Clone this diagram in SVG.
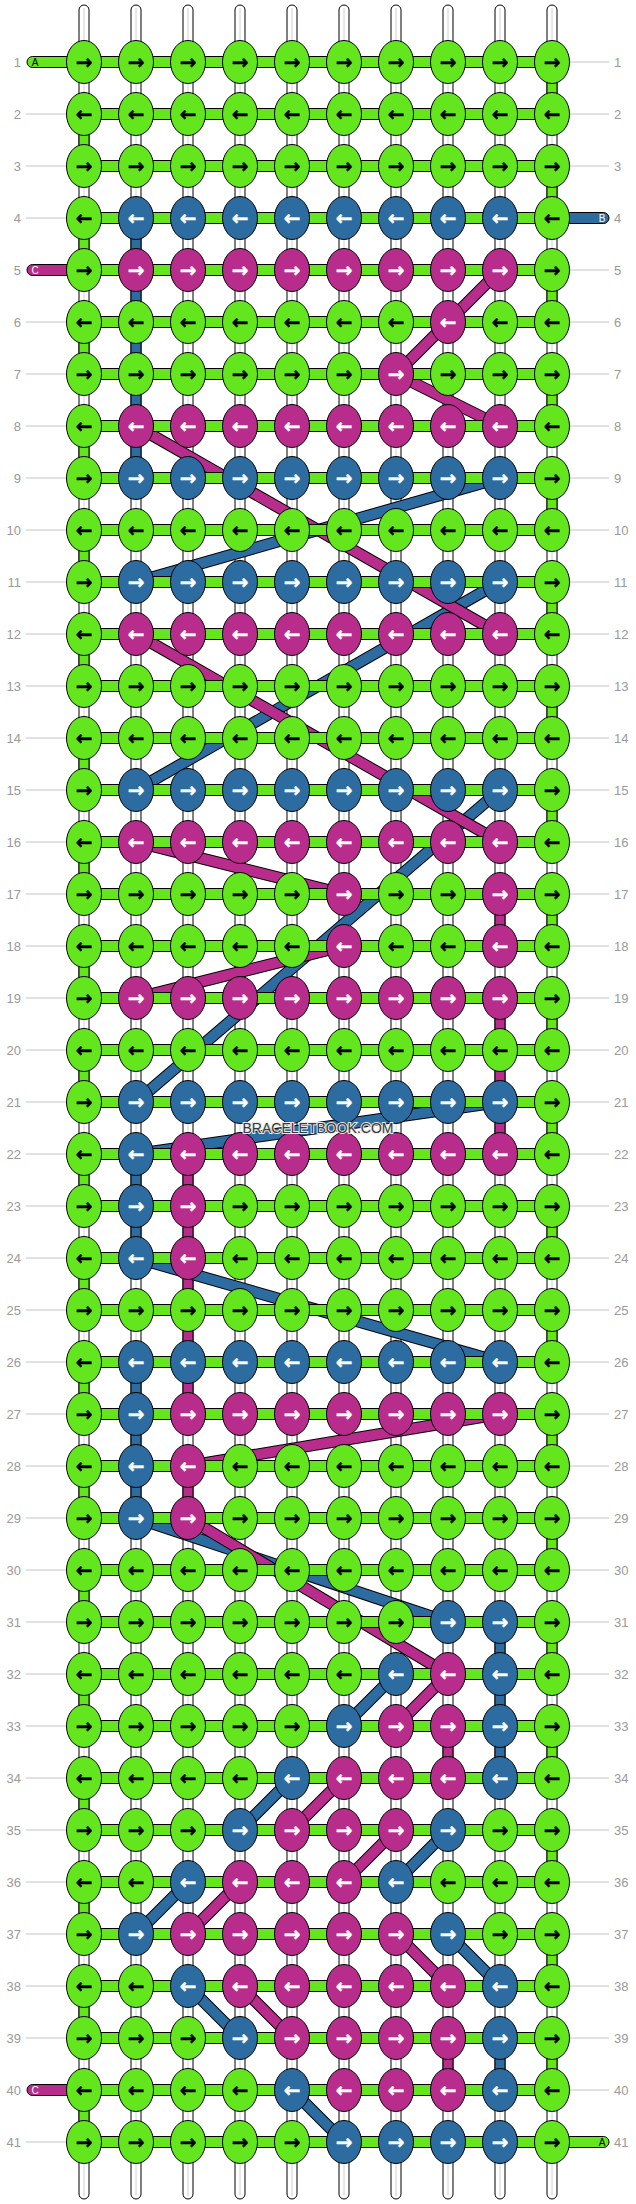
<svg xmlns="http://www.w3.org/2000/svg" width="636" height="2204" viewBox="0 0 636 2204">
<style>
.st{fill:#fff;stroke:#000;stroke-width:1}
.sc{stroke:#d0d0d0;stroke-width:1}
.bar{fill:#63e61e;stroke:#000;stroke-width:1}
.vg{fill:#63e61e;stroke:#000;stroke-width:1}
.vb{fill:#2c6ca0;stroke:#000;stroke-width:1}
.vm{fill:#b82d8c;stroke:#000;stroke-width:1}
.o{stroke:#000;stroke-width:12}
.cb{stroke:#2c6ca0;stroke-width:10}
.cm{stroke:#b82d8c;stroke-width:10}
.G{fill:#63e61e;stroke:#000;stroke-width:1}
.B{fill:#2c6ca0;stroke:#000;stroke-width:1}
.M{fill:#b82d8c;stroke:#000;stroke-width:1}
.a{font-family:"DejaVu Sans",sans-serif;font-weight:bold;font-size:20px;text-anchor:middle;stroke-width:0.4;stroke-linejoin:round}
.k{fill:#000;stroke:#000}.w{fill:#fff;stroke:#fff}
.n{font-family:"Liberation Sans",Arial,sans-serif;font-size:13px;fill:#9a9a9a}
.nl{text-anchor:end}
.ln{stroke:#c4c4c4;stroke-width:1}
.tt{font-family:"Liberation Sans",Arial,sans-serif;font-size:10px;text-anchor:middle}
.tk{fill:#000}.tw{fill:#fff}
.wm{font-family:"Liberation Sans",Arial,sans-serif;font-size:14px;fill:#3a3a3a;stroke:#e8e8e8;stroke-width:2;paint-order:stroke;text-anchor:middle}
</style>
<rect width="636" height="2204" fill="#fff"/>
<g id="strings">
<rect class="st" x="79" y="5" width="10" height="2194" rx="5"/><line class="sc" x1="84" y1="8" x2="84" y2="2196"/>
<rect class="st" x="131" y="5" width="10" height="2194" rx="5"/><line class="sc" x1="136" y1="8" x2="136" y2="2196"/>
<rect class="st" x="183" y="5" width="10" height="2194" rx="5"/><line class="sc" x1="188" y1="8" x2="188" y2="2196"/>
<rect class="st" x="235" y="5" width="10" height="2194" rx="5"/><line class="sc" x1="240" y1="8" x2="240" y2="2196"/>
<rect class="st" x="287" y="5" width="10" height="2194" rx="5"/><line class="sc" x1="292" y1="8" x2="292" y2="2196"/>
<rect class="st" x="339" y="5" width="10" height="2194" rx="5"/><line class="sc" x1="344" y1="8" x2="344" y2="2196"/>
<rect class="st" x="391" y="5" width="10" height="2194" rx="5"/><line class="sc" x1="396" y1="8" x2="396" y2="2196"/>
<rect class="st" x="443" y="5" width="10" height="2194" rx="5"/><line class="sc" x1="448" y1="8" x2="448" y2="2196"/>
<rect class="st" x="495" y="5" width="10" height="2194" rx="5"/><line class="sc" x1="500" y1="8" x2="500" y2="2196"/>
<rect class="st" x="547" y="5" width="10" height="2194" rx="5"/><line class="sc" x1="552" y1="8" x2="552" y2="2196"/>
</g>
<g id="labels">
<line class="ln" x1="26" y1="114" x2="84" y2="114"/><line class="ln" x1="26" y1="166" x2="84" y2="166"/><line class="ln" x1="26" y1="218" x2="84" y2="218"/>
<line class="ln" x1="26" y1="322" x2="84" y2="322"/><line class="ln" x1="26" y1="374" x2="84" y2="374"/><line class="ln" x1="26" y1="426" x2="84" y2="426"/><line class="ln" x1="26" y1="478" x2="84" y2="478"/><line class="ln" x1="26" y1="530" x2="84" y2="530"/>
<line class="ln" x1="26" y1="582" x2="84" y2="582"/><line class="ln" x1="26" y1="634" x2="84" y2="634"/><line class="ln" x1="26" y1="686" x2="84" y2="686"/><line class="ln" x1="26" y1="738" x2="84" y2="738"/><line class="ln" x1="26" y1="790" x2="84" y2="790"/>
<line class="ln" x1="26" y1="842" x2="84" y2="842"/><line class="ln" x1="26" y1="894" x2="84" y2="894"/><line class="ln" x1="26" y1="946" x2="84" y2="946"/><line class="ln" x1="26" y1="998" x2="84" y2="998"/><line class="ln" x1="26" y1="1050" x2="84" y2="1050"/>
<line class="ln" x1="26" y1="1102" x2="84" y2="1102"/><line class="ln" x1="26" y1="1154" x2="84" y2="1154"/><line class="ln" x1="26" y1="1206" x2="84" y2="1206"/><line class="ln" x1="26" y1="1258" x2="84" y2="1258"/><line class="ln" x1="26" y1="1310" x2="84" y2="1310"/>
<line class="ln" x1="26" y1="1362" x2="84" y2="1362"/><line class="ln" x1="26" y1="1414" x2="84" y2="1414"/><line class="ln" x1="26" y1="1466" x2="84" y2="1466"/><line class="ln" x1="26" y1="1518" x2="84" y2="1518"/><line class="ln" x1="26" y1="1570" x2="84" y2="1570"/>
<line class="ln" x1="26" y1="1622" x2="84" y2="1622"/><line class="ln" x1="26" y1="1674" x2="84" y2="1674"/><line class="ln" x1="26" y1="1726" x2="84" y2="1726"/><line class="ln" x1="26" y1="1778" x2="84" y2="1778"/><line class="ln" x1="26" y1="1830" x2="84" y2="1830"/>
<line class="ln" x1="26" y1="1882" x2="84" y2="1882"/><line class="ln" x1="26" y1="1934" x2="84" y2="1934"/><line class="ln" x1="26" y1="1986" x2="84" y2="1986"/><line class="ln" x1="26" y1="2038" x2="84" y2="2038"/><line class="ln" x1="26" y1="2142" x2="84" y2="2142"/>
<line class="ln" x1="552" y1="62" x2="609" y2="62"/><line class="ln" x1="552" y1="114" x2="609" y2="114"/><line class="ln" x1="552" y1="166" x2="609" y2="166"/><line class="ln" x1="552" y1="270" x2="609" y2="270"/>
<line class="ln" x1="552" y1="322" x2="609" y2="322"/><line class="ln" x1="552" y1="374" x2="609" y2="374"/><line class="ln" x1="552" y1="426" x2="609" y2="426"/><line class="ln" x1="552" y1="478" x2="609" y2="478"/><line class="ln" x1="552" y1="530" x2="609" y2="530"/>
<line class="ln" x1="552" y1="582" x2="609" y2="582"/><line class="ln" x1="552" y1="634" x2="609" y2="634"/><line class="ln" x1="552" y1="686" x2="609" y2="686"/><line class="ln" x1="552" y1="738" x2="609" y2="738"/><line class="ln" x1="552" y1="790" x2="609" y2="790"/>
<line class="ln" x1="552" y1="842" x2="609" y2="842"/><line class="ln" x1="552" y1="894" x2="609" y2="894"/><line class="ln" x1="552" y1="946" x2="609" y2="946"/><line class="ln" x1="552" y1="998" x2="609" y2="998"/><line class="ln" x1="552" y1="1050" x2="609" y2="1050"/>
<line class="ln" x1="552" y1="1102" x2="609" y2="1102"/><line class="ln" x1="552" y1="1154" x2="609" y2="1154"/><line class="ln" x1="552" y1="1206" x2="609" y2="1206"/><line class="ln" x1="552" y1="1258" x2="609" y2="1258"/><line class="ln" x1="552" y1="1310" x2="609" y2="1310"/>
<line class="ln" x1="552" y1="1362" x2="609" y2="1362"/><line class="ln" x1="552" y1="1414" x2="609" y2="1414"/><line class="ln" x1="552" y1="1466" x2="609" y2="1466"/><line class="ln" x1="552" y1="1518" x2="609" y2="1518"/><line class="ln" x1="552" y1="1570" x2="609" y2="1570"/>
<line class="ln" x1="552" y1="1622" x2="609" y2="1622"/><line class="ln" x1="552" y1="1674" x2="609" y2="1674"/><line class="ln" x1="552" y1="1726" x2="609" y2="1726"/><line class="ln" x1="552" y1="1778" x2="609" y2="1778"/><line class="ln" x1="552" y1="1830" x2="609" y2="1830"/>
<line class="ln" x1="552" y1="1882" x2="609" y2="1882"/><line class="ln" x1="552" y1="1934" x2="609" y2="1934"/><line class="ln" x1="552" y1="1986" x2="609" y2="1986"/><line class="ln" x1="552" y1="2038" x2="609" y2="2038"/><line class="ln" x1="552" y1="2090" x2="609" y2="2090"/>
<g class="n nl">
<text x="21" y="66.5">1</text><text x="21" y="118.5">2</text><text x="21" y="170.5">3</text><text x="21" y="222.5">4</text><text x="21" y="274.5">5</text>
<text x="21" y="326.5">6</text><text x="21" y="378.5">7</text><text x="21" y="430.5">8</text><text x="21" y="482.5">9</text><text x="21" y="534.5">10</text>
<text x="21" y="586.5">11</text><text x="21" y="638.5">12</text><text x="21" y="690.5">13</text><text x="21" y="742.5">14</text><text x="21" y="794.5">15</text>
<text x="21" y="846.5">16</text><text x="21" y="898.5">17</text><text x="21" y="950.5">18</text><text x="21" y="1002.5">19</text><text x="21" y="1054.5">20</text>
<text x="21" y="1106.5">21</text><text x="21" y="1158.5">22</text><text x="21" y="1210.5">23</text><text x="21" y="1262.5">24</text><text x="21" y="1314.5">25</text>
<text x="21" y="1366.5">26</text><text x="21" y="1418.5">27</text><text x="21" y="1470.5">28</text><text x="21" y="1522.5">29</text><text x="21" y="1574.5">30</text>
<text x="21" y="1626.5">31</text><text x="21" y="1678.5">32</text><text x="21" y="1730.5">33</text><text x="21" y="1782.5">34</text><text x="21" y="1834.5">35</text>
<text x="21" y="1886.5">36</text><text x="21" y="1938.5">37</text><text x="21" y="1990.5">38</text><text x="21" y="2042.5">39</text><text x="21" y="2094.5">40</text>
<text x="21" y="2146.5">41</text>
</g>
<g class="n">
<text x="614" y="66.5">1</text><text x="614" y="118.5">2</text><text x="614" y="170.5">3</text><text x="614" y="222.5">4</text><text x="614" y="274.5">5</text>
<text x="614" y="326.5">6</text><text x="614" y="378.5">7</text><text x="614" y="430.5">8</text><text x="614" y="482.5">9</text><text x="614" y="534.5">10</text>
<text x="614" y="586.5">11</text><text x="614" y="638.5">12</text><text x="614" y="690.5">13</text><text x="614" y="742.5">14</text><text x="614" y="794.5">15</text>
<text x="614" y="846.5">16</text><text x="614" y="898.5">17</text><text x="614" y="950.5">18</text><text x="614" y="1002.5">19</text><text x="614" y="1054.5">20</text>
<text x="614" y="1106.5">21</text><text x="614" y="1158.5">22</text><text x="614" y="1210.5">23</text><text x="614" y="1262.5">24</text><text x="614" y="1314.5">25</text>
<text x="614" y="1366.5">26</text><text x="614" y="1418.5">27</text><text x="614" y="1470.5">28</text><text x="614" y="1522.5">29</text><text x="614" y="1574.5">30</text>
<text x="614" y="1626.5">31</text><text x="614" y="1678.5">32</text><text x="614" y="1730.5">33</text><text x="614" y="1782.5">34</text><text x="614" y="1834.5">35</text>
<text x="614" y="1886.5">36</text><text x="614" y="1938.5">37</text><text x="614" y="1990.5">38</text><text x="614" y="2042.5">39</text><text x="614" y="2094.5">40</text>
<text x="614" y="2146.5">41</text>
</g>
</g>
<g id="connectors">
<g id="green-verticals">
<rect class="vg" x="547" y="62" width="10" height="52"/><rect class="vg" x="79" y="114" width="10" height="52"/><rect class="vg" x="547" y="166" width="10" height="52"/><rect class="vg" x="79" y="218" width="10" height="52"/>
<rect class="vg" x="547" y="270" width="10" height="52"/><rect class="vg" x="79" y="322" width="10" height="52"/><rect class="vg" x="547" y="374" width="10" height="52"/><rect class="vg" x="79" y="426" width="10" height="52"/>
<rect class="vg" x="547" y="478" width="10" height="52"/><rect class="vg" x="79" y="530" width="10" height="52"/><rect class="vg" x="547" y="582" width="10" height="52"/><rect class="vg" x="79" y="634" width="10" height="52"/>
<rect class="vg" x="547" y="686" width="10" height="52"/><rect class="vg" x="79" y="738" width="10" height="52"/><rect class="vg" x="547" y="790" width="10" height="52"/><rect class="vg" x="79" y="842" width="10" height="52"/>
<rect class="vg" x="547" y="894" width="10" height="52"/><rect class="vg" x="79" y="946" width="10" height="52"/><rect class="vg" x="547" y="998" width="10" height="52"/><rect class="vg" x="79" y="1050" width="10" height="52"/>
<rect class="vg" x="547" y="1102" width="10" height="52"/><rect class="vg" x="79" y="1154" width="10" height="52"/><rect class="vg" x="547" y="1206" width="10" height="52"/><rect class="vg" x="79" y="1258" width="10" height="52"/>
<rect class="vg" x="547" y="1310" width="10" height="52"/><rect class="vg" x="79" y="1362" width="10" height="52"/><rect class="vg" x="547" y="1414" width="10" height="52"/><rect class="vg" x="79" y="1466" width="10" height="52"/>
<rect class="vg" x="547" y="1518" width="10" height="52"/><rect class="vg" x="79" y="1570" width="10" height="52"/><rect class="vg" x="547" y="1622" width="10" height="52"/><rect class="vg" x="79" y="1674" width="10" height="52"/>
<rect class="vg" x="547" y="1726" width="10" height="52"/><rect class="vg" x="79" y="1778" width="10" height="52"/><rect class="vg" x="547" y="1830" width="10" height="52"/><rect class="vg" x="79" y="1882" width="10" height="52"/>
<rect class="vg" x="547" y="1934" width="10" height="52"/><rect class="vg" x="79" y="1986" width="10" height="52"/><rect class="vg" x="547" y="2038" width="10" height="52"/><rect class="vg" x="79" y="2090" width="10" height="52"/>
</g>
<g id="blue-verticals">
<rect class="vb" x="131" y="218" width="10" height="260"/>
<rect class="vb" x="131" y="1154" width="10" height="104"/>
<rect class="vb" x="131" y="1362" width="10" height="156"/>
<rect class="vb" x="495" y="1622" width="10" height="156"/>
<rect class="vb" x="495" y="2038" width="10" height="52"/>
</g>
<g id="magenta-verticals">
<rect class="vm" x="495" y="894" width="10" height="52"/>
<rect class="vm" x="495" y="998" width="10" height="156"/>
<rect class="vm" x="183" y="1154" width="10" height="260"/>
<rect class="vm" x="183" y="1466" width="10" height="52"/>
<rect class="vm" x="443" y="1726" width="10" height="52"/>
<rect class="vm" x="443" y="2038" width="10" height="52"/>
</g>
<g id="blue-diagonals">
<line class="o" x1="500" y1="478" x2="136" y2="582"/><line class="cb" x1="500" y1="478" x2="136" y2="582"/>
<line class="o" x1="500" y1="582" x2="136" y2="790"/><line class="cb" x1="500" y1="582" x2="136" y2="790"/>
<line class="o" x1="500" y1="790" x2="136" y2="1102"/><line class="cb" x1="500" y1="790" x2="136" y2="1102"/>
<line class="o" x1="500" y1="1102" x2="136" y2="1154"/><line class="cb" x1="500" y1="1102" x2="136" y2="1154"/>
<line class="o" x1="136" y1="1258" x2="500" y2="1362"/><line class="cb" x1="136" y1="1258" x2="500" y2="1362"/>
<line class="o" x1="136" y1="1518" x2="448" y2="1622"/><line class="cb" x1="136" y1="1518" x2="448" y2="1622"/>
<line class="o" x1="396" y1="1674" x2="344" y2="1726"/><line class="cb" x1="396" y1="1674" x2="344" y2="1726"/>
<line class="o" x1="292" y1="1778" x2="240" y2="1830"/><line class="cb" x1="292" y1="1778" x2="240" y2="1830"/>
<line class="o" x1="448" y1="1830" x2="396" y2="1882"/><line class="cb" x1="448" y1="1830" x2="396" y2="1882"/>
<line class="o" x1="188" y1="1882" x2="136" y2="1934"/><line class="cb" x1="188" y1="1882" x2="136" y2="1934"/>
<line class="o" x1="448" y1="1934" x2="500" y2="1986"/><line class="cb" x1="448" y1="1934" x2="500" y2="1986"/>
<line class="o" x1="188" y1="1986" x2="240" y2="2038"/><line class="cb" x1="188" y1="1986" x2="240" y2="2038"/>
<line class="o" x1="292" y1="2090" x2="344" y2="2142"/><line class="cb" x1="292" y1="2090" x2="344" y2="2142"/>
</g>
<g id="magenta-diagonals">
<line class="o" x1="500" y1="270" x2="396" y2="374"/><line class="cm" x1="500" y1="270" x2="396" y2="374"/>
<line class="o" x1="396" y1="374" x2="500" y2="426"/><line class="cm" x1="396" y1="374" x2="500" y2="426"/>
<line class="o" x1="136" y1="426" x2="500" y2="634"/><line class="cm" x1="136" y1="426" x2="500" y2="634"/>
<line class="o" x1="136" y1="634" x2="500" y2="842"/><line class="cm" x1="136" y1="634" x2="500" y2="842"/>
<line class="o" x1="136" y1="842" x2="344" y2="894"/><line class="cm" x1="136" y1="842" x2="344" y2="894"/>
<line class="o" x1="344" y1="946" x2="136" y2="998"/><line class="cm" x1="344" y1="946" x2="136" y2="998"/>
<line class="o" x1="500" y1="1414" x2="188" y2="1466"/><line class="cm" x1="500" y1="1414" x2="188" y2="1466"/>
<line class="o" x1="188" y1="1518" x2="448" y2="1674"/><line class="cm" x1="188" y1="1518" x2="448" y2="1674"/>
<line class="o" x1="448" y1="1674" x2="396" y2="1726"/><line class="cm" x1="448" y1="1674" x2="396" y2="1726"/>
<line class="o" x1="344" y1="1778" x2="292" y2="1830"/><line class="cm" x1="344" y1="1778" x2="292" y2="1830"/>
<line class="o" x1="396" y1="1830" x2="344" y2="1882"/><line class="cm" x1="396" y1="1830" x2="344" y2="1882"/>
<line class="o" x1="240" y1="1882" x2="188" y2="1934"/><line class="cm" x1="240" y1="1882" x2="188" y2="1934"/>
<line class="o" x1="396" y1="1934" x2="448" y2="1986"/><line class="cm" x1="396" y1="1934" x2="448" y2="1986"/>
<line class="o" x1="240" y1="1986" x2="292" y2="2038"/><line class="cm" x1="240" y1="1986" x2="292" y2="2038"/>
</g>
<g id="row-bars">
<rect class="bar" x="84" y="56.5" width="468" height="11"/><rect class="bar" x="84" y="108.5" width="468" height="11"/><rect class="bar" x="84" y="160.5" width="468" height="11"/><rect class="bar" x="84" y="212.5" width="468" height="11"/>
<rect class="bar" x="84" y="264.5" width="468" height="11"/><rect class="bar" x="84" y="316.5" width="468" height="11"/><rect class="bar" x="84" y="368.5" width="468" height="11"/><rect class="bar" x="84" y="420.5" width="468" height="11"/>
<rect class="bar" x="84" y="472.5" width="468" height="11"/><rect class="bar" x="84" y="524.5" width="468" height="11"/><rect class="bar" x="84" y="576.5" width="468" height="11"/><rect class="bar" x="84" y="628.5" width="468" height="11"/>
<rect class="bar" x="84" y="680.5" width="468" height="11"/><rect class="bar" x="84" y="732.5" width="468" height="11"/><rect class="bar" x="84" y="784.5" width="468" height="11"/><rect class="bar" x="84" y="836.5" width="468" height="11"/>
<rect class="bar" x="84" y="888.5" width="468" height="11"/><rect class="bar" x="84" y="940.5" width="468" height="11"/><rect class="bar" x="84" y="992.5" width="468" height="11"/><rect class="bar" x="84" y="1044.5" width="468" height="11"/>
<rect class="bar" x="84" y="1096.5" width="468" height="11"/><rect class="bar" x="84" y="1148.5" width="468" height="11"/><rect class="bar" x="84" y="1200.5" width="468" height="11"/><rect class="bar" x="84" y="1252.5" width="468" height="11"/>
<rect class="bar" x="84" y="1304.5" width="468" height="11"/><rect class="bar" x="84" y="1356.5" width="468" height="11"/><rect class="bar" x="84" y="1408.5" width="468" height="11"/><rect class="bar" x="84" y="1460.5" width="468" height="11"/>
<rect class="bar" x="84" y="1512.5" width="468" height="11"/><rect class="bar" x="84" y="1564.5" width="468" height="11"/><rect class="bar" x="84" y="1616.5" width="468" height="11"/><rect class="bar" x="84" y="1668.5" width="468" height="11"/>
<rect class="bar" x="84" y="1720.5" width="468" height="11"/><rect class="bar" x="84" y="1772.5" width="468" height="11"/><rect class="bar" x="84" y="1824.5" width="468" height="11"/><rect class="bar" x="84" y="1876.5" width="468" height="11"/>
<rect class="bar" x="84" y="1928.5" width="468" height="11"/><rect class="bar" x="84" y="1980.5" width="468" height="11"/><rect class="bar" x="84" y="2032.5" width="468" height="11"/><rect class="bar" x="84" y="2084.5" width="468" height="11"/>
<rect class="bar" x="84" y="2136.5" width="468" height="11"/>
</g>
</g>
<g id="tabs">
<g id="tab-A-start"><rect class="bar" x="27" y="56.5" width="62" height="11" rx="5.5"/><text class="tt tk" x="35" y="66">A</text></g>
<g id="tab-C-1"><rect class="vm" x="27" y="264.5" width="62" height="11" rx="5.5"/><text class="tt tw" x="35" y="274">C</text></g>
<g id="tab-C-2"><rect class="vm" x="27" y="2084.5" width="62" height="11" rx="5.5"/><text class="tt tw" x="35" y="2094">C</text></g>
<g id="tab-B"><rect class="vb" x="547" y="212.5" width="62" height="11" rx="5.5"/><text class="tt tw" x="602" y="222">B</text></g>
<g id="tab-A-end"><rect class="bar" x="547" y="2136.5" width="62" height="11" rx="5.5"/><text class="tt tk" x="602" y="2146">A</text></g>
</g>
<g id="knots">
<g id="k1-1" transform="translate(84 62)"><ellipse class="G" rx="17.5" ry="21.5"/><text class="a k" y="7">→</text></g>
<g id="k1-2" transform="translate(136 62)"><ellipse class="G" rx="17.5" ry="21.5"/><text class="a k" y="7">→</text></g>
<g id="k1-3" transform="translate(188 62)"><ellipse class="G" rx="17.5" ry="21.5"/><text class="a k" y="7">→</text></g>
<g id="k1-4" transform="translate(240 62)"><ellipse class="G" rx="17.5" ry="21.5"/><text class="a k" y="7">→</text></g>
<g id="k1-5" transform="translate(292 62)"><ellipse class="G" rx="17.5" ry="21.5"/><text class="a k" y="7">→</text></g>
<g id="k1-6" transform="translate(344 62)"><ellipse class="G" rx="17.5" ry="21.5"/><text class="a k" y="7">→</text></g>
<g id="k1-7" transform="translate(396 62)"><ellipse class="G" rx="17.5" ry="21.5"/><text class="a k" y="7">→</text></g>
<g id="k1-8" transform="translate(448 62)"><ellipse class="G" rx="17.5" ry="21.5"/><text class="a k" y="7">→</text></g>
<g id="k1-9" transform="translate(500 62)"><ellipse class="G" rx="17.5" ry="21.5"/><text class="a k" y="7">→</text></g>
<g id="k1-10" transform="translate(552 62)"><ellipse class="G" rx="17.5" ry="21.5"/><text class="a k" y="7">→</text></g>
<g id="k2-1" transform="translate(84 114)"><ellipse class="G" rx="17.5" ry="21.5"/><text class="a k" y="7">←</text></g>
<g id="k2-2" transform="translate(136 114)"><ellipse class="G" rx="17.5" ry="21.5"/><text class="a k" y="7">←</text></g>
<g id="k2-3" transform="translate(188 114)"><ellipse class="G" rx="17.5" ry="21.5"/><text class="a k" y="7">←</text></g>
<g id="k2-4" transform="translate(240 114)"><ellipse class="G" rx="17.5" ry="21.5"/><text class="a k" y="7">←</text></g>
<g id="k2-5" transform="translate(292 114)"><ellipse class="G" rx="17.5" ry="21.5"/><text class="a k" y="7">←</text></g>
<g id="k2-6" transform="translate(344 114)"><ellipse class="G" rx="17.5" ry="21.5"/><text class="a k" y="7">←</text></g>
<g id="k2-7" transform="translate(396 114)"><ellipse class="G" rx="17.5" ry="21.5"/><text class="a k" y="7">←</text></g>
<g id="k2-8" transform="translate(448 114)"><ellipse class="G" rx="17.5" ry="21.5"/><text class="a k" y="7">←</text></g>
<g id="k2-9" transform="translate(500 114)"><ellipse class="G" rx="17.5" ry="21.5"/><text class="a k" y="7">←</text></g>
<g id="k2-10" transform="translate(552 114)"><ellipse class="G" rx="17.5" ry="21.5"/><text class="a k" y="7">←</text></g>
<g id="k3-1" transform="translate(84 166)"><ellipse class="G" rx="17.5" ry="21.5"/><text class="a k" y="7">→</text></g>
<g id="k3-2" transform="translate(136 166)"><ellipse class="G" rx="17.5" ry="21.5"/><text class="a k" y="7">→</text></g>
<g id="k3-3" transform="translate(188 166)"><ellipse class="G" rx="17.5" ry="21.5"/><text class="a k" y="7">→</text></g>
<g id="k3-4" transform="translate(240 166)"><ellipse class="G" rx="17.5" ry="21.5"/><text class="a k" y="7">→</text></g>
<g id="k3-5" transform="translate(292 166)"><ellipse class="G" rx="17.5" ry="21.5"/><text class="a k" y="7">→</text></g>
<g id="k3-6" transform="translate(344 166)"><ellipse class="G" rx="17.5" ry="21.5"/><text class="a k" y="7">→</text></g>
<g id="k3-7" transform="translate(396 166)"><ellipse class="G" rx="17.5" ry="21.5"/><text class="a k" y="7">→</text></g>
<g id="k3-8" transform="translate(448 166)"><ellipse class="G" rx="17.5" ry="21.5"/><text class="a k" y="7">→</text></g>
<g id="k3-9" transform="translate(500 166)"><ellipse class="G" rx="17.5" ry="21.5"/><text class="a k" y="7">→</text></g>
<g id="k3-10" transform="translate(552 166)"><ellipse class="G" rx="17.5" ry="21.5"/><text class="a k" y="7">→</text></g>
<g id="k4-1" transform="translate(84 218)"><ellipse class="G" rx="17.5" ry="21.5"/><text class="a k" y="7">←</text></g>
<g id="k4-2" transform="translate(136 218)"><ellipse class="B" rx="17.5" ry="21.5"/><text class="a w" y="7">←</text></g>
<g id="k4-3" transform="translate(188 218)"><ellipse class="B" rx="17.5" ry="21.5"/><text class="a w" y="7">←</text></g>
<g id="k4-4" transform="translate(240 218)"><ellipse class="B" rx="17.5" ry="21.5"/><text class="a w" y="7">←</text></g>
<g id="k4-5" transform="translate(292 218)"><ellipse class="B" rx="17.5" ry="21.5"/><text class="a w" y="7">←</text></g>
<g id="k4-6" transform="translate(344 218)"><ellipse class="B" rx="17.5" ry="21.5"/><text class="a w" y="7">←</text></g>
<g id="k4-7" transform="translate(396 218)"><ellipse class="B" rx="17.5" ry="21.5"/><text class="a w" y="7">←</text></g>
<g id="k4-8" transform="translate(448 218)"><ellipse class="B" rx="17.5" ry="21.5"/><text class="a w" y="7">←</text></g>
<g id="k4-9" transform="translate(500 218)"><ellipse class="B" rx="17.5" ry="21.5"/><text class="a w" y="7">←</text></g>
<g id="k4-10" transform="translate(552 218)"><ellipse class="G" rx="17.5" ry="21.5"/><text class="a k" y="7">←</text></g>
<g id="k5-1" transform="translate(84 270)"><ellipse class="G" rx="17.5" ry="21.5"/><text class="a k" y="7">→</text></g>
<g id="k5-2" transform="translate(136 270)"><ellipse class="M" rx="17.5" ry="21.5"/><text class="a w" y="7">→</text></g>
<g id="k5-3" transform="translate(188 270)"><ellipse class="M" rx="17.5" ry="21.5"/><text class="a w" y="7">→</text></g>
<g id="k5-4" transform="translate(240 270)"><ellipse class="M" rx="17.5" ry="21.5"/><text class="a w" y="7">→</text></g>
<g id="k5-5" transform="translate(292 270)"><ellipse class="M" rx="17.5" ry="21.5"/><text class="a w" y="7">→</text></g>
<g id="k5-6" transform="translate(344 270)"><ellipse class="M" rx="17.5" ry="21.5"/><text class="a w" y="7">→</text></g>
<g id="k5-7" transform="translate(396 270)"><ellipse class="M" rx="17.5" ry="21.5"/><text class="a w" y="7">→</text></g>
<g id="k5-8" transform="translate(448 270)"><ellipse class="M" rx="17.5" ry="21.5"/><text class="a w" y="7">→</text></g>
<g id="k5-9" transform="translate(500 270)"><ellipse class="M" rx="17.5" ry="21.5"/><text class="a w" y="7">→</text></g>
<g id="k5-10" transform="translate(552 270)"><ellipse class="G" rx="17.5" ry="21.5"/><text class="a k" y="7">→</text></g>
<g id="k6-1" transform="translate(84 322)"><ellipse class="G" rx="17.5" ry="21.5"/><text class="a k" y="7">←</text></g>
<g id="k6-2" transform="translate(136 322)"><ellipse class="G" rx="17.5" ry="21.5"/><text class="a k" y="7">←</text></g>
<g id="k6-3" transform="translate(188 322)"><ellipse class="G" rx="17.5" ry="21.5"/><text class="a k" y="7">←</text></g>
<g id="k6-4" transform="translate(240 322)"><ellipse class="G" rx="17.5" ry="21.5"/><text class="a k" y="7">←</text></g>
<g id="k6-5" transform="translate(292 322)"><ellipse class="G" rx="17.5" ry="21.5"/><text class="a k" y="7">←</text></g>
<g id="k6-6" transform="translate(344 322)"><ellipse class="G" rx="17.5" ry="21.5"/><text class="a k" y="7">←</text></g>
<g id="k6-7" transform="translate(396 322)"><ellipse class="G" rx="17.5" ry="21.5"/><text class="a k" y="7">←</text></g>
<g id="k6-8" transform="translate(448 322)"><ellipse class="M" rx="17.5" ry="21.5"/><text class="a w" y="7">←</text></g>
<g id="k6-9" transform="translate(500 322)"><ellipse class="G" rx="17.5" ry="21.5"/><text class="a k" y="7">←</text></g>
<g id="k6-10" transform="translate(552 322)"><ellipse class="G" rx="17.5" ry="21.5"/><text class="a k" y="7">←</text></g>
<g id="k7-1" transform="translate(84 374)"><ellipse class="G" rx="17.5" ry="21.5"/><text class="a k" y="7">→</text></g>
<g id="k7-2" transform="translate(136 374)"><ellipse class="G" rx="17.5" ry="21.5"/><text class="a k" y="7">→</text></g>
<g id="k7-3" transform="translate(188 374)"><ellipse class="G" rx="17.5" ry="21.5"/><text class="a k" y="7">→</text></g>
<g id="k7-4" transform="translate(240 374)"><ellipse class="G" rx="17.5" ry="21.5"/><text class="a k" y="7">→</text></g>
<g id="k7-5" transform="translate(292 374)"><ellipse class="G" rx="17.5" ry="21.5"/><text class="a k" y="7">→</text></g>
<g id="k7-6" transform="translate(344 374)"><ellipse class="G" rx="17.5" ry="21.5"/><text class="a k" y="7">→</text></g>
<g id="k7-7" transform="translate(396 374)"><ellipse class="M" rx="17.5" ry="21.5"/><text class="a w" y="7">→</text></g>
<g id="k7-8" transform="translate(448 374)"><ellipse class="G" rx="17.5" ry="21.5"/><text class="a k" y="7">→</text></g>
<g id="k7-9" transform="translate(500 374)"><ellipse class="G" rx="17.5" ry="21.5"/><text class="a k" y="7">→</text></g>
<g id="k7-10" transform="translate(552 374)"><ellipse class="G" rx="17.5" ry="21.5"/><text class="a k" y="7">→</text></g>
<g id="k8-1" transform="translate(84 426)"><ellipse class="G" rx="17.5" ry="21.5"/><text class="a k" y="7">←</text></g>
<g id="k8-2" transform="translate(136 426)"><ellipse class="M" rx="17.5" ry="21.5"/><text class="a w" y="7">←</text></g>
<g id="k8-3" transform="translate(188 426)"><ellipse class="M" rx="17.5" ry="21.5"/><text class="a w" y="7">←</text></g>
<g id="k8-4" transform="translate(240 426)"><ellipse class="M" rx="17.5" ry="21.5"/><text class="a w" y="7">←</text></g>
<g id="k8-5" transform="translate(292 426)"><ellipse class="M" rx="17.5" ry="21.5"/><text class="a w" y="7">←</text></g>
<g id="k8-6" transform="translate(344 426)"><ellipse class="M" rx="17.5" ry="21.5"/><text class="a w" y="7">←</text></g>
<g id="k8-7" transform="translate(396 426)"><ellipse class="M" rx="17.5" ry="21.5"/><text class="a w" y="7">←</text></g>
<g id="k8-8" transform="translate(448 426)"><ellipse class="M" rx="17.5" ry="21.5"/><text class="a w" y="7">←</text></g>
<g id="k8-9" transform="translate(500 426)"><ellipse class="M" rx="17.5" ry="21.5"/><text class="a w" y="7">←</text></g>
<g id="k8-10" transform="translate(552 426)"><ellipse class="G" rx="17.5" ry="21.5"/><text class="a k" y="7">←</text></g>
<g id="k9-1" transform="translate(84 478)"><ellipse class="G" rx="17.5" ry="21.5"/><text class="a k" y="7">→</text></g>
<g id="k9-2" transform="translate(136 478)"><ellipse class="B" rx="17.5" ry="21.5"/><text class="a w" y="7">→</text></g>
<g id="k9-3" transform="translate(188 478)"><ellipse class="B" rx="17.5" ry="21.5"/><text class="a w" y="7">→</text></g>
<g id="k9-4" transform="translate(240 478)"><ellipse class="B" rx="17.5" ry="21.5"/><text class="a w" y="7">→</text></g>
<g id="k9-5" transform="translate(292 478)"><ellipse class="B" rx="17.5" ry="21.5"/><text class="a w" y="7">→</text></g>
<g id="k9-6" transform="translate(344 478)"><ellipse class="B" rx="17.5" ry="21.5"/><text class="a w" y="7">→</text></g>
<g id="k9-7" transform="translate(396 478)"><ellipse class="B" rx="17.5" ry="21.5"/><text class="a w" y="7">→</text></g>
<g id="k9-8" transform="translate(448 478)"><ellipse class="B" rx="17.5" ry="21.5"/><text class="a w" y="7">→</text></g>
<g id="k9-9" transform="translate(500 478)"><ellipse class="B" rx="17.5" ry="21.5"/><text class="a w" y="7">→</text></g>
<g id="k9-10" transform="translate(552 478)"><ellipse class="G" rx="17.5" ry="21.5"/><text class="a k" y="7">→</text></g>
<g id="k10-1" transform="translate(84 530)"><ellipse class="G" rx="17.5" ry="21.5"/><text class="a k" y="7">←</text></g>
<g id="k10-2" transform="translate(136 530)"><ellipse class="G" rx="17.5" ry="21.5"/><text class="a k" y="7">←</text></g>
<g id="k10-3" transform="translate(188 530)"><ellipse class="G" rx="17.5" ry="21.5"/><text class="a k" y="7">←</text></g>
<g id="k10-4" transform="translate(240 530)"><ellipse class="G" rx="17.5" ry="21.5"/><text class="a k" y="7">←</text></g>
<g id="k10-5" transform="translate(292 530)"><ellipse class="G" rx="17.5" ry="21.5"/><text class="a k" y="7">←</text></g>
<g id="k10-6" transform="translate(344 530)"><ellipse class="G" rx="17.5" ry="21.5"/><text class="a k" y="7">←</text></g>
<g id="k10-7" transform="translate(396 530)"><ellipse class="G" rx="17.5" ry="21.5"/><text class="a k" y="7">←</text></g>
<g id="k10-8" transform="translate(448 530)"><ellipse class="G" rx="17.5" ry="21.5"/><text class="a k" y="7">←</text></g>
<g id="k10-9" transform="translate(500 530)"><ellipse class="G" rx="17.5" ry="21.5"/><text class="a k" y="7">←</text></g>
<g id="k10-10" transform="translate(552 530)"><ellipse class="G" rx="17.5" ry="21.5"/><text class="a k" y="7">←</text></g>
<g id="k11-1" transform="translate(84 582)"><ellipse class="G" rx="17.5" ry="21.5"/><text class="a k" y="7">→</text></g>
<g id="k11-2" transform="translate(136 582)"><ellipse class="B" rx="17.5" ry="21.5"/><text class="a w" y="7">→</text></g>
<g id="k11-3" transform="translate(188 582)"><ellipse class="B" rx="17.5" ry="21.5"/><text class="a w" y="7">→</text></g>
<g id="k11-4" transform="translate(240 582)"><ellipse class="B" rx="17.5" ry="21.5"/><text class="a w" y="7">→</text></g>
<g id="k11-5" transform="translate(292 582)"><ellipse class="B" rx="17.5" ry="21.5"/><text class="a w" y="7">→</text></g>
<g id="k11-6" transform="translate(344 582)"><ellipse class="B" rx="17.5" ry="21.5"/><text class="a w" y="7">→</text></g>
<g id="k11-7" transform="translate(396 582)"><ellipse class="B" rx="17.5" ry="21.5"/><text class="a w" y="7">→</text></g>
<g id="k11-8" transform="translate(448 582)"><ellipse class="B" rx="17.5" ry="21.5"/><text class="a w" y="7">→</text></g>
<g id="k11-9" transform="translate(500 582)"><ellipse class="B" rx="17.5" ry="21.5"/><text class="a w" y="7">→</text></g>
<g id="k11-10" transform="translate(552 582)"><ellipse class="G" rx="17.5" ry="21.5"/><text class="a k" y="7">→</text></g>
<g id="k12-1" transform="translate(84 634)"><ellipse class="G" rx="17.5" ry="21.5"/><text class="a k" y="7">←</text></g>
<g id="k12-2" transform="translate(136 634)"><ellipse class="M" rx="17.5" ry="21.5"/><text class="a w" y="7">←</text></g>
<g id="k12-3" transform="translate(188 634)"><ellipse class="M" rx="17.5" ry="21.5"/><text class="a w" y="7">←</text></g>
<g id="k12-4" transform="translate(240 634)"><ellipse class="M" rx="17.5" ry="21.5"/><text class="a w" y="7">←</text></g>
<g id="k12-5" transform="translate(292 634)"><ellipse class="M" rx="17.5" ry="21.5"/><text class="a w" y="7">←</text></g>
<g id="k12-6" transform="translate(344 634)"><ellipse class="M" rx="17.5" ry="21.5"/><text class="a w" y="7">←</text></g>
<g id="k12-7" transform="translate(396 634)"><ellipse class="M" rx="17.5" ry="21.5"/><text class="a w" y="7">←</text></g>
<g id="k12-8" transform="translate(448 634)"><ellipse class="M" rx="17.5" ry="21.5"/><text class="a w" y="7">←</text></g>
<g id="k12-9" transform="translate(500 634)"><ellipse class="M" rx="17.5" ry="21.5"/><text class="a w" y="7">←</text></g>
<g id="k12-10" transform="translate(552 634)"><ellipse class="G" rx="17.5" ry="21.5"/><text class="a k" y="7">←</text></g>
<g id="k13-1" transform="translate(84 686)"><ellipse class="G" rx="17.5" ry="21.5"/><text class="a k" y="7">→</text></g>
<g id="k13-2" transform="translate(136 686)"><ellipse class="G" rx="17.5" ry="21.5"/><text class="a k" y="7">→</text></g>
<g id="k13-3" transform="translate(188 686)"><ellipse class="G" rx="17.5" ry="21.5"/><text class="a k" y="7">→</text></g>
<g id="k13-4" transform="translate(240 686)"><ellipse class="G" rx="17.5" ry="21.5"/><text class="a k" y="7">→</text></g>
<g id="k13-5" transform="translate(292 686)"><ellipse class="G" rx="17.5" ry="21.5"/><text class="a k" y="7">→</text></g>
<g id="k13-6" transform="translate(344 686)"><ellipse class="G" rx="17.5" ry="21.5"/><text class="a k" y="7">→</text></g>
<g id="k13-7" transform="translate(396 686)"><ellipse class="G" rx="17.5" ry="21.5"/><text class="a k" y="7">→</text></g>
<g id="k13-8" transform="translate(448 686)"><ellipse class="G" rx="17.5" ry="21.5"/><text class="a k" y="7">→</text></g>
<g id="k13-9" transform="translate(500 686)"><ellipse class="G" rx="17.5" ry="21.5"/><text class="a k" y="7">→</text></g>
<g id="k13-10" transform="translate(552 686)"><ellipse class="G" rx="17.5" ry="21.5"/><text class="a k" y="7">→</text></g>
<g id="k14-1" transform="translate(84 738)"><ellipse class="G" rx="17.5" ry="21.5"/><text class="a k" y="7">←</text></g>
<g id="k14-2" transform="translate(136 738)"><ellipse class="G" rx="17.5" ry="21.5"/><text class="a k" y="7">←</text></g>
<g id="k14-3" transform="translate(188 738)"><ellipse class="G" rx="17.5" ry="21.5"/><text class="a k" y="7">←</text></g>
<g id="k14-4" transform="translate(240 738)"><ellipse class="G" rx="17.5" ry="21.5"/><text class="a k" y="7">←</text></g>
<g id="k14-5" transform="translate(292 738)"><ellipse class="G" rx="17.5" ry="21.5"/><text class="a k" y="7">←</text></g>
<g id="k14-6" transform="translate(344 738)"><ellipse class="G" rx="17.5" ry="21.5"/><text class="a k" y="7">←</text></g>
<g id="k14-7" transform="translate(396 738)"><ellipse class="G" rx="17.5" ry="21.5"/><text class="a k" y="7">←</text></g>
<g id="k14-8" transform="translate(448 738)"><ellipse class="G" rx="17.5" ry="21.5"/><text class="a k" y="7">←</text></g>
<g id="k14-9" transform="translate(500 738)"><ellipse class="G" rx="17.5" ry="21.5"/><text class="a k" y="7">←</text></g>
<g id="k14-10" transform="translate(552 738)"><ellipse class="G" rx="17.5" ry="21.5"/><text class="a k" y="7">←</text></g>
<g id="k15-1" transform="translate(84 790)"><ellipse class="G" rx="17.5" ry="21.5"/><text class="a k" y="7">→</text></g>
<g id="k15-2" transform="translate(136 790)"><ellipse class="B" rx="17.5" ry="21.5"/><text class="a w" y="7">→</text></g>
<g id="k15-3" transform="translate(188 790)"><ellipse class="B" rx="17.5" ry="21.5"/><text class="a w" y="7">→</text></g>
<g id="k15-4" transform="translate(240 790)"><ellipse class="B" rx="17.5" ry="21.5"/><text class="a w" y="7">→</text></g>
<g id="k15-5" transform="translate(292 790)"><ellipse class="B" rx="17.5" ry="21.5"/><text class="a w" y="7">→</text></g>
<g id="k15-6" transform="translate(344 790)"><ellipse class="B" rx="17.5" ry="21.5"/><text class="a w" y="7">→</text></g>
<g id="k15-7" transform="translate(396 790)"><ellipse class="B" rx="17.5" ry="21.5"/><text class="a w" y="7">→</text></g>
<g id="k15-8" transform="translate(448 790)"><ellipse class="B" rx="17.5" ry="21.5"/><text class="a w" y="7">→</text></g>
<g id="k15-9" transform="translate(500 790)"><ellipse class="B" rx="17.5" ry="21.5"/><text class="a w" y="7">→</text></g>
<g id="k15-10" transform="translate(552 790)"><ellipse class="G" rx="17.5" ry="21.5"/><text class="a k" y="7">→</text></g>
<g id="k16-1" transform="translate(84 842)"><ellipse class="G" rx="17.5" ry="21.5"/><text class="a k" y="7">←</text></g>
<g id="k16-2" transform="translate(136 842)"><ellipse class="M" rx="17.5" ry="21.5"/><text class="a w" y="7">←</text></g>
<g id="k16-3" transform="translate(188 842)"><ellipse class="M" rx="17.5" ry="21.5"/><text class="a w" y="7">←</text></g>
<g id="k16-4" transform="translate(240 842)"><ellipse class="M" rx="17.5" ry="21.5"/><text class="a w" y="7">←</text></g>
<g id="k16-5" transform="translate(292 842)"><ellipse class="M" rx="17.5" ry="21.5"/><text class="a w" y="7">←</text></g>
<g id="k16-6" transform="translate(344 842)"><ellipse class="M" rx="17.5" ry="21.5"/><text class="a w" y="7">←</text></g>
<g id="k16-7" transform="translate(396 842)"><ellipse class="M" rx="17.5" ry="21.5"/><text class="a w" y="7">←</text></g>
<g id="k16-8" transform="translate(448 842)"><ellipse class="M" rx="17.5" ry="21.5"/><text class="a w" y="7">←</text></g>
<g id="k16-9" transform="translate(500 842)"><ellipse class="M" rx="17.5" ry="21.5"/><text class="a w" y="7">←</text></g>
<g id="k16-10" transform="translate(552 842)"><ellipse class="G" rx="17.5" ry="21.5"/><text class="a k" y="7">←</text></g>
<g id="k17-1" transform="translate(84 894)"><ellipse class="G" rx="17.5" ry="21.5"/><text class="a k" y="7">→</text></g>
<g id="k17-2" transform="translate(136 894)"><ellipse class="G" rx="17.5" ry="21.5"/><text class="a k" y="7">→</text></g>
<g id="k17-3" transform="translate(188 894)"><ellipse class="G" rx="17.5" ry="21.5"/><text class="a k" y="7">→</text></g>
<g id="k17-4" transform="translate(240 894)"><ellipse class="G" rx="17.5" ry="21.5"/><text class="a k" y="7">→</text></g>
<g id="k17-5" transform="translate(292 894)"><ellipse class="G" rx="17.5" ry="21.5"/><text class="a k" y="7">→</text></g>
<g id="k17-6" transform="translate(344 894)"><ellipse class="M" rx="17.5" ry="21.5"/><text class="a w" y="7">→</text></g>
<g id="k17-7" transform="translate(396 894)"><ellipse class="G" rx="17.5" ry="21.5"/><text class="a k" y="7">→</text></g>
<g id="k17-8" transform="translate(448 894)"><ellipse class="G" rx="17.5" ry="21.5"/><text class="a k" y="7">→</text></g>
<g id="k17-9" transform="translate(500 894)"><ellipse class="M" rx="17.5" ry="21.5"/><text class="a w" y="7">→</text></g>
<g id="k17-10" transform="translate(552 894)"><ellipse class="G" rx="17.5" ry="21.5"/><text class="a k" y="7">→</text></g>
<g id="k18-1" transform="translate(84 946)"><ellipse class="G" rx="17.5" ry="21.5"/><text class="a k" y="7">←</text></g>
<g id="k18-2" transform="translate(136 946)"><ellipse class="G" rx="17.5" ry="21.5"/><text class="a k" y="7">←</text></g>
<g id="k18-3" transform="translate(188 946)"><ellipse class="G" rx="17.5" ry="21.5"/><text class="a k" y="7">←</text></g>
<g id="k18-4" transform="translate(240 946)"><ellipse class="G" rx="17.5" ry="21.5"/><text class="a k" y="7">←</text></g>
<g id="k18-5" transform="translate(292 946)"><ellipse class="G" rx="17.5" ry="21.5"/><text class="a k" y="7">←</text></g>
<g id="k18-6" transform="translate(344 946)"><ellipse class="M" rx="17.5" ry="21.5"/><text class="a w" y="7">←</text></g>
<g id="k18-7" transform="translate(396 946)"><ellipse class="G" rx="17.5" ry="21.5"/><text class="a k" y="7">←</text></g>
<g id="k18-8" transform="translate(448 946)"><ellipse class="G" rx="17.5" ry="21.5"/><text class="a k" y="7">←</text></g>
<g id="k18-9" transform="translate(500 946)"><ellipse class="M" rx="17.5" ry="21.5"/><text class="a w" y="7">←</text></g>
<g id="k18-10" transform="translate(552 946)"><ellipse class="G" rx="17.5" ry="21.5"/><text class="a k" y="7">←</text></g>
<g id="k19-1" transform="translate(84 998)"><ellipse class="G" rx="17.5" ry="21.5"/><text class="a k" y="7">→</text></g>
<g id="k19-2" transform="translate(136 998)"><ellipse class="M" rx="17.5" ry="21.5"/><text class="a w" y="7">→</text></g>
<g id="k19-3" transform="translate(188 998)"><ellipse class="M" rx="17.5" ry="21.5"/><text class="a w" y="7">→</text></g>
<g id="k19-4" transform="translate(240 998)"><ellipse class="M" rx="17.5" ry="21.5"/><text class="a w" y="7">→</text></g>
<g id="k19-5" transform="translate(292 998)"><ellipse class="M" rx="17.5" ry="21.5"/><text class="a w" y="7">→</text></g>
<g id="k19-6" transform="translate(344 998)"><ellipse class="M" rx="17.5" ry="21.5"/><text class="a w" y="7">→</text></g>
<g id="k19-7" transform="translate(396 998)"><ellipse class="M" rx="17.5" ry="21.5"/><text class="a w" y="7">→</text></g>
<g id="k19-8" transform="translate(448 998)"><ellipse class="M" rx="17.5" ry="21.5"/><text class="a w" y="7">→</text></g>
<g id="k19-9" transform="translate(500 998)"><ellipse class="M" rx="17.5" ry="21.5"/><text class="a w" y="7">→</text></g>
<g id="k19-10" transform="translate(552 998)"><ellipse class="G" rx="17.5" ry="21.5"/><text class="a k" y="7">→</text></g>
<g id="k20-1" transform="translate(84 1050)"><ellipse class="G" rx="17.5" ry="21.5"/><text class="a k" y="7">←</text></g>
<g id="k20-2" transform="translate(136 1050)"><ellipse class="G" rx="17.5" ry="21.5"/><text class="a k" y="7">←</text></g>
<g id="k20-3" transform="translate(188 1050)"><ellipse class="G" rx="17.5" ry="21.5"/><text class="a k" y="7">←</text></g>
<g id="k20-4" transform="translate(240 1050)"><ellipse class="G" rx="17.5" ry="21.5"/><text class="a k" y="7">←</text></g>
<g id="k20-5" transform="translate(292 1050)"><ellipse class="G" rx="17.5" ry="21.5"/><text class="a k" y="7">←</text></g>
<g id="k20-6" transform="translate(344 1050)"><ellipse class="G" rx="17.5" ry="21.5"/><text class="a k" y="7">←</text></g>
<g id="k20-7" transform="translate(396 1050)"><ellipse class="G" rx="17.5" ry="21.5"/><text class="a k" y="7">←</text></g>
<g id="k20-8" transform="translate(448 1050)"><ellipse class="G" rx="17.5" ry="21.5"/><text class="a k" y="7">←</text></g>
<g id="k20-9" transform="translate(500 1050)"><ellipse class="G" rx="17.5" ry="21.5"/><text class="a k" y="7">←</text></g>
<g id="k20-10" transform="translate(552 1050)"><ellipse class="G" rx="17.5" ry="21.5"/><text class="a k" y="7">←</text></g>
<g id="k21-1" transform="translate(84 1102)"><ellipse class="G" rx="17.5" ry="21.5"/><text class="a k" y="7">→</text></g>
<g id="k21-2" transform="translate(136 1102)"><ellipse class="B" rx="17.5" ry="21.5"/><text class="a w" y="7">→</text></g>
<g id="k21-3" transform="translate(188 1102)"><ellipse class="B" rx="17.5" ry="21.5"/><text class="a w" y="7">→</text></g>
<g id="k21-4" transform="translate(240 1102)"><ellipse class="B" rx="17.5" ry="21.5"/><text class="a w" y="7">→</text></g>
<g id="k21-5" transform="translate(292 1102)"><ellipse class="B" rx="17.5" ry="21.5"/><text class="a w" y="7">→</text></g>
<g id="k21-6" transform="translate(344 1102)"><ellipse class="B" rx="17.5" ry="21.5"/><text class="a w" y="7">→</text></g>
<g id="k21-7" transform="translate(396 1102)"><ellipse class="B" rx="17.5" ry="21.5"/><text class="a w" y="7">→</text></g>
<g id="k21-8" transform="translate(448 1102)"><ellipse class="B" rx="17.5" ry="21.5"/><text class="a w" y="7">→</text></g>
<g id="k21-9" transform="translate(500 1102)"><ellipse class="B" rx="17.5" ry="21.5"/><text class="a w" y="7">→</text></g>
<g id="k21-10" transform="translate(552 1102)"><ellipse class="G" rx="17.5" ry="21.5"/><text class="a k" y="7">→</text></g>
<g id="k22-1" transform="translate(84 1154)"><ellipse class="G" rx="17.5" ry="21.5"/><text class="a k" y="7">←</text></g>
<g id="k22-2" transform="translate(136 1154)"><ellipse class="B" rx="17.5" ry="21.5"/><text class="a w" y="7">←</text></g>
<g id="k22-3" transform="translate(188 1154)"><ellipse class="M" rx="17.5" ry="21.5"/><text class="a w" y="7">←</text></g>
<g id="k22-4" transform="translate(240 1154)"><ellipse class="M" rx="17.5" ry="21.5"/><text class="a w" y="7">←</text></g>
<g id="k22-5" transform="translate(292 1154)"><ellipse class="M" rx="17.5" ry="21.5"/><text class="a w" y="7">←</text></g>
<g id="k22-6" transform="translate(344 1154)"><ellipse class="M" rx="17.5" ry="21.5"/><text class="a w" y="7">←</text></g>
<g id="k22-7" transform="translate(396 1154)"><ellipse class="M" rx="17.5" ry="21.5"/><text class="a w" y="7">←</text></g>
<g id="k22-8" transform="translate(448 1154)"><ellipse class="M" rx="17.5" ry="21.5"/><text class="a w" y="7">←</text></g>
<g id="k22-9" transform="translate(500 1154)"><ellipse class="M" rx="17.5" ry="21.5"/><text class="a w" y="7">←</text></g>
<g id="k22-10" transform="translate(552 1154)"><ellipse class="G" rx="17.5" ry="21.5"/><text class="a k" y="7">←</text></g>
<g id="k23-1" transform="translate(84 1206)"><ellipse class="G" rx="17.5" ry="21.5"/><text class="a k" y="7">→</text></g>
<g id="k23-2" transform="translate(136 1206)"><ellipse class="B" rx="17.5" ry="21.5"/><text class="a w" y="7">→</text></g>
<g id="k23-3" transform="translate(188 1206)"><ellipse class="M" rx="17.5" ry="21.5"/><text class="a w" y="7">→</text></g>
<g id="k23-4" transform="translate(240 1206)"><ellipse class="G" rx="17.5" ry="21.5"/><text class="a k" y="7">→</text></g>
<g id="k23-5" transform="translate(292 1206)"><ellipse class="G" rx="17.5" ry="21.5"/><text class="a k" y="7">→</text></g>
<g id="k23-6" transform="translate(344 1206)"><ellipse class="G" rx="17.5" ry="21.5"/><text class="a k" y="7">→</text></g>
<g id="k23-7" transform="translate(396 1206)"><ellipse class="G" rx="17.5" ry="21.5"/><text class="a k" y="7">→</text></g>
<g id="k23-8" transform="translate(448 1206)"><ellipse class="G" rx="17.5" ry="21.5"/><text class="a k" y="7">→</text></g>
<g id="k23-9" transform="translate(500 1206)"><ellipse class="G" rx="17.5" ry="21.5"/><text class="a k" y="7">→</text></g>
<g id="k23-10" transform="translate(552 1206)"><ellipse class="G" rx="17.5" ry="21.5"/><text class="a k" y="7">→</text></g>
<g id="k24-1" transform="translate(84 1258)"><ellipse class="G" rx="17.5" ry="21.5"/><text class="a k" y="7">←</text></g>
<g id="k24-2" transform="translate(136 1258)"><ellipse class="B" rx="17.5" ry="21.5"/><text class="a w" y="7">←</text></g>
<g id="k24-3" transform="translate(188 1258)"><ellipse class="M" rx="17.5" ry="21.5"/><text class="a w" y="7">←</text></g>
<g id="k24-4" transform="translate(240 1258)"><ellipse class="G" rx="17.5" ry="21.5"/><text class="a k" y="7">←</text></g>
<g id="k24-5" transform="translate(292 1258)"><ellipse class="G" rx="17.5" ry="21.5"/><text class="a k" y="7">←</text></g>
<g id="k24-6" transform="translate(344 1258)"><ellipse class="G" rx="17.5" ry="21.5"/><text class="a k" y="7">←</text></g>
<g id="k24-7" transform="translate(396 1258)"><ellipse class="G" rx="17.5" ry="21.5"/><text class="a k" y="7">←</text></g>
<g id="k24-8" transform="translate(448 1258)"><ellipse class="G" rx="17.5" ry="21.5"/><text class="a k" y="7">←</text></g>
<g id="k24-9" transform="translate(500 1258)"><ellipse class="G" rx="17.5" ry="21.5"/><text class="a k" y="7">←</text></g>
<g id="k24-10" transform="translate(552 1258)"><ellipse class="G" rx="17.5" ry="21.5"/><text class="a k" y="7">←</text></g>
<g id="k25-1" transform="translate(84 1310)"><ellipse class="G" rx="17.5" ry="21.5"/><text class="a k" y="7">→</text></g>
<g id="k25-2" transform="translate(136 1310)"><ellipse class="G" rx="17.5" ry="21.5"/><text class="a k" y="7">→</text></g>
<g id="k25-3" transform="translate(188 1310)"><ellipse class="G" rx="17.5" ry="21.5"/><text class="a k" y="7">→</text></g>
<g id="k25-4" transform="translate(240 1310)"><ellipse class="G" rx="17.5" ry="21.5"/><text class="a k" y="7">→</text></g>
<g id="k25-5" transform="translate(292 1310)"><ellipse class="G" rx="17.5" ry="21.5"/><text class="a k" y="7">→</text></g>
<g id="k25-6" transform="translate(344 1310)"><ellipse class="G" rx="17.5" ry="21.5"/><text class="a k" y="7">→</text></g>
<g id="k25-7" transform="translate(396 1310)"><ellipse class="G" rx="17.5" ry="21.5"/><text class="a k" y="7">→</text></g>
<g id="k25-8" transform="translate(448 1310)"><ellipse class="G" rx="17.5" ry="21.5"/><text class="a k" y="7">→</text></g>
<g id="k25-9" transform="translate(500 1310)"><ellipse class="G" rx="17.5" ry="21.5"/><text class="a k" y="7">→</text></g>
<g id="k25-10" transform="translate(552 1310)"><ellipse class="G" rx="17.5" ry="21.5"/><text class="a k" y="7">→</text></g>
<g id="k26-1" transform="translate(84 1362)"><ellipse class="G" rx="17.5" ry="21.5"/><text class="a k" y="7">←</text></g>
<g id="k26-2" transform="translate(136 1362)"><ellipse class="B" rx="17.5" ry="21.5"/><text class="a w" y="7">←</text></g>
<g id="k26-3" transform="translate(188 1362)"><ellipse class="B" rx="17.5" ry="21.5"/><text class="a w" y="7">←</text></g>
<g id="k26-4" transform="translate(240 1362)"><ellipse class="B" rx="17.5" ry="21.5"/><text class="a w" y="7">←</text></g>
<g id="k26-5" transform="translate(292 1362)"><ellipse class="B" rx="17.5" ry="21.5"/><text class="a w" y="7">←</text></g>
<g id="k26-6" transform="translate(344 1362)"><ellipse class="B" rx="17.5" ry="21.5"/><text class="a w" y="7">←</text></g>
<g id="k26-7" transform="translate(396 1362)"><ellipse class="B" rx="17.5" ry="21.5"/><text class="a w" y="7">←</text></g>
<g id="k26-8" transform="translate(448 1362)"><ellipse class="B" rx="17.5" ry="21.5"/><text class="a w" y="7">←</text></g>
<g id="k26-9" transform="translate(500 1362)"><ellipse class="B" rx="17.5" ry="21.5"/><text class="a w" y="7">←</text></g>
<g id="k26-10" transform="translate(552 1362)"><ellipse class="G" rx="17.5" ry="21.5"/><text class="a k" y="7">←</text></g>
<g id="k27-1" transform="translate(84 1414)"><ellipse class="G" rx="17.5" ry="21.5"/><text class="a k" y="7">→</text></g>
<g id="k27-2" transform="translate(136 1414)"><ellipse class="B" rx="17.5" ry="21.5"/><text class="a w" y="7">→</text></g>
<g id="k27-3" transform="translate(188 1414)"><ellipse class="M" rx="17.5" ry="21.5"/><text class="a w" y="7">→</text></g>
<g id="k27-4" transform="translate(240 1414)"><ellipse class="M" rx="17.5" ry="21.5"/><text class="a w" y="7">→</text></g>
<g id="k27-5" transform="translate(292 1414)"><ellipse class="M" rx="17.5" ry="21.5"/><text class="a w" y="7">→</text></g>
<g id="k27-6" transform="translate(344 1414)"><ellipse class="M" rx="17.5" ry="21.5"/><text class="a w" y="7">→</text></g>
<g id="k27-7" transform="translate(396 1414)"><ellipse class="M" rx="17.5" ry="21.5"/><text class="a w" y="7">→</text></g>
<g id="k27-8" transform="translate(448 1414)"><ellipse class="M" rx="17.5" ry="21.5"/><text class="a w" y="7">→</text></g>
<g id="k27-9" transform="translate(500 1414)"><ellipse class="M" rx="17.5" ry="21.5"/><text class="a w" y="7">→</text></g>
<g id="k27-10" transform="translate(552 1414)"><ellipse class="G" rx="17.5" ry="21.5"/><text class="a k" y="7">→</text></g>
<g id="k28-1" transform="translate(84 1466)"><ellipse class="G" rx="17.5" ry="21.5"/><text class="a k" y="7">←</text></g>
<g id="k28-2" transform="translate(136 1466)"><ellipse class="B" rx="17.5" ry="21.5"/><text class="a w" y="7">←</text></g>
<g id="k28-3" transform="translate(188 1466)"><ellipse class="M" rx="17.5" ry="21.5"/><text class="a w" y="7">←</text></g>
<g id="k28-4" transform="translate(240 1466)"><ellipse class="G" rx="17.5" ry="21.5"/><text class="a k" y="7">←</text></g>
<g id="k28-5" transform="translate(292 1466)"><ellipse class="G" rx="17.5" ry="21.5"/><text class="a k" y="7">←</text></g>
<g id="k28-6" transform="translate(344 1466)"><ellipse class="G" rx="17.5" ry="21.5"/><text class="a k" y="7">←</text></g>
<g id="k28-7" transform="translate(396 1466)"><ellipse class="G" rx="17.5" ry="21.5"/><text class="a k" y="7">←</text></g>
<g id="k28-8" transform="translate(448 1466)"><ellipse class="G" rx="17.5" ry="21.5"/><text class="a k" y="7">←</text></g>
<g id="k28-9" transform="translate(500 1466)"><ellipse class="G" rx="17.5" ry="21.5"/><text class="a k" y="7">←</text></g>
<g id="k28-10" transform="translate(552 1466)"><ellipse class="G" rx="17.5" ry="21.5"/><text class="a k" y="7">←</text></g>
<g id="k29-1" transform="translate(84 1518)"><ellipse class="G" rx="17.5" ry="21.5"/><text class="a k" y="7">→</text></g>
<g id="k29-2" transform="translate(136 1518)"><ellipse class="B" rx="17.5" ry="21.5"/><text class="a w" y="7">→</text></g>
<g id="k29-3" transform="translate(188 1518)"><ellipse class="M" rx="17.5" ry="21.5"/><text class="a w" y="7">→</text></g>
<g id="k29-4" transform="translate(240 1518)"><ellipse class="G" rx="17.5" ry="21.5"/><text class="a k" y="7">→</text></g>
<g id="k29-5" transform="translate(292 1518)"><ellipse class="G" rx="17.5" ry="21.5"/><text class="a k" y="7">→</text></g>
<g id="k29-6" transform="translate(344 1518)"><ellipse class="G" rx="17.5" ry="21.5"/><text class="a k" y="7">→</text></g>
<g id="k29-7" transform="translate(396 1518)"><ellipse class="G" rx="17.5" ry="21.5"/><text class="a k" y="7">→</text></g>
<g id="k29-8" transform="translate(448 1518)"><ellipse class="G" rx="17.5" ry="21.5"/><text class="a k" y="7">→</text></g>
<g id="k29-9" transform="translate(500 1518)"><ellipse class="G" rx="17.5" ry="21.5"/><text class="a k" y="7">→</text></g>
<g id="k29-10" transform="translate(552 1518)"><ellipse class="G" rx="17.5" ry="21.5"/><text class="a k" y="7">→</text></g>
<g id="k30-1" transform="translate(84 1570)"><ellipse class="G" rx="17.5" ry="21.5"/><text class="a k" y="7">←</text></g>
<g id="k30-2" transform="translate(136 1570)"><ellipse class="G" rx="17.5" ry="21.5"/><text class="a k" y="7">←</text></g>
<g id="k30-3" transform="translate(188 1570)"><ellipse class="G" rx="17.5" ry="21.5"/><text class="a k" y="7">←</text></g>
<g id="k30-4" transform="translate(240 1570)"><ellipse class="G" rx="17.5" ry="21.5"/><text class="a k" y="7">←</text></g>
<g id="k30-5" transform="translate(292 1570)"><ellipse class="G" rx="17.5" ry="21.5"/><text class="a k" y="7">←</text></g>
<g id="k30-6" transform="translate(344 1570)"><ellipse class="G" rx="17.5" ry="21.5"/><text class="a k" y="7">←</text></g>
<g id="k30-7" transform="translate(396 1570)"><ellipse class="G" rx="17.5" ry="21.5"/><text class="a k" y="7">←</text></g>
<g id="k30-8" transform="translate(448 1570)"><ellipse class="G" rx="17.5" ry="21.5"/><text class="a k" y="7">←</text></g>
<g id="k30-9" transform="translate(500 1570)"><ellipse class="G" rx="17.5" ry="21.5"/><text class="a k" y="7">←</text></g>
<g id="k30-10" transform="translate(552 1570)"><ellipse class="G" rx="17.5" ry="21.5"/><text class="a k" y="7">←</text></g>
<g id="k31-1" transform="translate(84 1622)"><ellipse class="G" rx="17.5" ry="21.5"/><text class="a k" y="7">→</text></g>
<g id="k31-2" transform="translate(136 1622)"><ellipse class="G" rx="17.5" ry="21.5"/><text class="a k" y="7">→</text></g>
<g id="k31-3" transform="translate(188 1622)"><ellipse class="G" rx="17.5" ry="21.5"/><text class="a k" y="7">→</text></g>
<g id="k31-4" transform="translate(240 1622)"><ellipse class="G" rx="17.5" ry="21.5"/><text class="a k" y="7">→</text></g>
<g id="k31-5" transform="translate(292 1622)"><ellipse class="G" rx="17.5" ry="21.5"/><text class="a k" y="7">→</text></g>
<g id="k31-6" transform="translate(344 1622)"><ellipse class="G" rx="17.5" ry="21.5"/><text class="a k" y="7">→</text></g>
<g id="k31-7" transform="translate(396 1622)"><ellipse class="G" rx="17.5" ry="21.5"/><text class="a k" y="7">→</text></g>
<g id="k31-8" transform="translate(448 1622)"><ellipse class="B" rx="17.5" ry="21.5"/><text class="a w" y="7">→</text></g>
<g id="k31-9" transform="translate(500 1622)"><ellipse class="B" rx="17.5" ry="21.5"/><text class="a w" y="7">→</text></g>
<g id="k31-10" transform="translate(552 1622)"><ellipse class="G" rx="17.5" ry="21.5"/><text class="a k" y="7">→</text></g>
<g id="k32-1" transform="translate(84 1674)"><ellipse class="G" rx="17.5" ry="21.5"/><text class="a k" y="7">←</text></g>
<g id="k32-2" transform="translate(136 1674)"><ellipse class="G" rx="17.5" ry="21.5"/><text class="a k" y="7">←</text></g>
<g id="k32-3" transform="translate(188 1674)"><ellipse class="G" rx="17.5" ry="21.5"/><text class="a k" y="7">←</text></g>
<g id="k32-4" transform="translate(240 1674)"><ellipse class="G" rx="17.5" ry="21.5"/><text class="a k" y="7">←</text></g>
<g id="k32-5" transform="translate(292 1674)"><ellipse class="G" rx="17.5" ry="21.5"/><text class="a k" y="7">←</text></g>
<g id="k32-6" transform="translate(344 1674)"><ellipse class="G" rx="17.5" ry="21.5"/><text class="a k" y="7">←</text></g>
<g id="k32-7" transform="translate(396 1674)"><ellipse class="B" rx="17.5" ry="21.5"/><text class="a w" y="7">←</text></g>
<g id="k32-8" transform="translate(448 1674)"><ellipse class="M" rx="17.5" ry="21.5"/><text class="a w" y="7">←</text></g>
<g id="k32-9" transform="translate(500 1674)"><ellipse class="B" rx="17.5" ry="21.5"/><text class="a w" y="7">←</text></g>
<g id="k32-10" transform="translate(552 1674)"><ellipse class="G" rx="17.5" ry="21.5"/><text class="a k" y="7">←</text></g>
<g id="k33-1" transform="translate(84 1726)"><ellipse class="G" rx="17.5" ry="21.5"/><text class="a k" y="7">→</text></g>
<g id="k33-2" transform="translate(136 1726)"><ellipse class="G" rx="17.5" ry="21.5"/><text class="a k" y="7">→</text></g>
<g id="k33-3" transform="translate(188 1726)"><ellipse class="G" rx="17.5" ry="21.5"/><text class="a k" y="7">→</text></g>
<g id="k33-4" transform="translate(240 1726)"><ellipse class="G" rx="17.5" ry="21.5"/><text class="a k" y="7">→</text></g>
<g id="k33-5" transform="translate(292 1726)"><ellipse class="G" rx="17.5" ry="21.5"/><text class="a k" y="7">→</text></g>
<g id="k33-6" transform="translate(344 1726)"><ellipse class="B" rx="17.5" ry="21.5"/><text class="a w" y="7">→</text></g>
<g id="k33-7" transform="translate(396 1726)"><ellipse class="M" rx="17.5" ry="21.5"/><text class="a w" y="7">→</text></g>
<g id="k33-8" transform="translate(448 1726)"><ellipse class="M" rx="17.5" ry="21.5"/><text class="a w" y="7">→</text></g>
<g id="k33-9" transform="translate(500 1726)"><ellipse class="B" rx="17.5" ry="21.5"/><text class="a w" y="7">→</text></g>
<g id="k33-10" transform="translate(552 1726)"><ellipse class="G" rx="17.5" ry="21.5"/><text class="a k" y="7">→</text></g>
<g id="k34-1" transform="translate(84 1778)"><ellipse class="G" rx="17.5" ry="21.5"/><text class="a k" y="7">←</text></g>
<g id="k34-2" transform="translate(136 1778)"><ellipse class="G" rx="17.5" ry="21.5"/><text class="a k" y="7">←</text></g>
<g id="k34-3" transform="translate(188 1778)"><ellipse class="G" rx="17.5" ry="21.5"/><text class="a k" y="7">←</text></g>
<g id="k34-4" transform="translate(240 1778)"><ellipse class="G" rx="17.5" ry="21.5"/><text class="a k" y="7">←</text></g>
<g id="k34-5" transform="translate(292 1778)"><ellipse class="B" rx="17.5" ry="21.5"/><text class="a w" y="7">←</text></g>
<g id="k34-6" transform="translate(344 1778)"><ellipse class="M" rx="17.5" ry="21.5"/><text class="a w" y="7">←</text></g>
<g id="k34-7" transform="translate(396 1778)"><ellipse class="M" rx="17.5" ry="21.5"/><text class="a w" y="7">←</text></g>
<g id="k34-8" transform="translate(448 1778)"><ellipse class="M" rx="17.5" ry="21.5"/><text class="a w" y="7">←</text></g>
<g id="k34-9" transform="translate(500 1778)"><ellipse class="B" rx="17.5" ry="21.5"/><text class="a w" y="7">←</text></g>
<g id="k34-10" transform="translate(552 1778)"><ellipse class="G" rx="17.5" ry="21.5"/><text class="a k" y="7">←</text></g>
<g id="k35-1" transform="translate(84 1830)"><ellipse class="G" rx="17.5" ry="21.5"/><text class="a k" y="7">→</text></g>
<g id="k35-2" transform="translate(136 1830)"><ellipse class="G" rx="17.5" ry="21.5"/><text class="a k" y="7">→</text></g>
<g id="k35-3" transform="translate(188 1830)"><ellipse class="G" rx="17.5" ry="21.5"/><text class="a k" y="7">→</text></g>
<g id="k35-4" transform="translate(240 1830)"><ellipse class="B" rx="17.5" ry="21.5"/><text class="a w" y="7">→</text></g>
<g id="k35-5" transform="translate(292 1830)"><ellipse class="M" rx="17.5" ry="21.5"/><text class="a w" y="7">→</text></g>
<g id="k35-6" transform="translate(344 1830)"><ellipse class="M" rx="17.5" ry="21.5"/><text class="a w" y="7">→</text></g>
<g id="k35-7" transform="translate(396 1830)"><ellipse class="M" rx="17.5" ry="21.5"/><text class="a w" y="7">→</text></g>
<g id="k35-8" transform="translate(448 1830)"><ellipse class="B" rx="17.5" ry="21.5"/><text class="a w" y="7">→</text></g>
<g id="k35-9" transform="translate(500 1830)"><ellipse class="G" rx="17.5" ry="21.5"/><text class="a k" y="7">→</text></g>
<g id="k35-10" transform="translate(552 1830)"><ellipse class="G" rx="17.5" ry="21.5"/><text class="a k" y="7">→</text></g>
<g id="k36-1" transform="translate(84 1882)"><ellipse class="G" rx="17.5" ry="21.5"/><text class="a k" y="7">←</text></g>
<g id="k36-2" transform="translate(136 1882)"><ellipse class="G" rx="17.5" ry="21.5"/><text class="a k" y="7">←</text></g>
<g id="k36-3" transform="translate(188 1882)"><ellipse class="B" rx="17.5" ry="21.5"/><text class="a w" y="7">←</text></g>
<g id="k36-4" transform="translate(240 1882)"><ellipse class="M" rx="17.5" ry="21.5"/><text class="a w" y="7">←</text></g>
<g id="k36-5" transform="translate(292 1882)"><ellipse class="M" rx="17.5" ry="21.5"/><text class="a w" y="7">←</text></g>
<g id="k36-6" transform="translate(344 1882)"><ellipse class="M" rx="17.5" ry="21.5"/><text class="a w" y="7">←</text></g>
<g id="k36-7" transform="translate(396 1882)"><ellipse class="B" rx="17.5" ry="21.5"/><text class="a w" y="7">←</text></g>
<g id="k36-8" transform="translate(448 1882)"><ellipse class="G" rx="17.5" ry="21.5"/><text class="a k" y="7">←</text></g>
<g id="k36-9" transform="translate(500 1882)"><ellipse class="G" rx="17.5" ry="21.5"/><text class="a k" y="7">←</text></g>
<g id="k36-10" transform="translate(552 1882)"><ellipse class="G" rx="17.5" ry="21.5"/><text class="a k" y="7">←</text></g>
<g id="k37-1" transform="translate(84 1934)"><ellipse class="G" rx="17.5" ry="21.5"/><text class="a k" y="7">→</text></g>
<g id="k37-2" transform="translate(136 1934)"><ellipse class="B" rx="17.5" ry="21.5"/><text class="a w" y="7">→</text></g>
<g id="k37-3" transform="translate(188 1934)"><ellipse class="M" rx="17.5" ry="21.5"/><text class="a w" y="7">→</text></g>
<g id="k37-4" transform="translate(240 1934)"><ellipse class="M" rx="17.5" ry="21.5"/><text class="a w" y="7">→</text></g>
<g id="k37-5" transform="translate(292 1934)"><ellipse class="M" rx="17.5" ry="21.5"/><text class="a w" y="7">→</text></g>
<g id="k37-6" transform="translate(344 1934)"><ellipse class="M" rx="17.5" ry="21.5"/><text class="a w" y="7">→</text></g>
<g id="k37-7" transform="translate(396 1934)"><ellipse class="M" rx="17.5" ry="21.5"/><text class="a w" y="7">→</text></g>
<g id="k37-8" transform="translate(448 1934)"><ellipse class="B" rx="17.5" ry="21.5"/><text class="a w" y="7">→</text></g>
<g id="k37-9" transform="translate(500 1934)"><ellipse class="G" rx="17.5" ry="21.5"/><text class="a k" y="7">→</text></g>
<g id="k37-10" transform="translate(552 1934)"><ellipse class="G" rx="17.5" ry="21.5"/><text class="a k" y="7">→</text></g>
<g id="k38-1" transform="translate(84 1986)"><ellipse class="G" rx="17.5" ry="21.5"/><text class="a k" y="7">←</text></g>
<g id="k38-2" transform="translate(136 1986)"><ellipse class="G" rx="17.5" ry="21.5"/><text class="a k" y="7">←</text></g>
<g id="k38-3" transform="translate(188 1986)"><ellipse class="B" rx="17.5" ry="21.5"/><text class="a w" y="7">←</text></g>
<g id="k38-4" transform="translate(240 1986)"><ellipse class="M" rx="17.5" ry="21.5"/><text class="a w" y="7">←</text></g>
<g id="k38-5" transform="translate(292 1986)"><ellipse class="M" rx="17.5" ry="21.5"/><text class="a w" y="7">←</text></g>
<g id="k38-6" transform="translate(344 1986)"><ellipse class="M" rx="17.5" ry="21.5"/><text class="a w" y="7">←</text></g>
<g id="k38-7" transform="translate(396 1986)"><ellipse class="M" rx="17.5" ry="21.5"/><text class="a w" y="7">←</text></g>
<g id="k38-8" transform="translate(448 1986)"><ellipse class="M" rx="17.5" ry="21.5"/><text class="a w" y="7">←</text></g>
<g id="k38-9" transform="translate(500 1986)"><ellipse class="B" rx="17.5" ry="21.5"/><text class="a w" y="7">←</text></g>
<g id="k38-10" transform="translate(552 1986)"><ellipse class="G" rx="17.5" ry="21.5"/><text class="a k" y="7">←</text></g>
<g id="k39-1" transform="translate(84 2038)"><ellipse class="G" rx="17.5" ry="21.5"/><text class="a k" y="7">→</text></g>
<g id="k39-2" transform="translate(136 2038)"><ellipse class="G" rx="17.5" ry="21.5"/><text class="a k" y="7">→</text></g>
<g id="k39-3" transform="translate(188 2038)"><ellipse class="G" rx="17.5" ry="21.5"/><text class="a k" y="7">→</text></g>
<g id="k39-4" transform="translate(240 2038)"><ellipse class="B" rx="17.5" ry="21.5"/><text class="a w" y="7">→</text></g>
<g id="k39-5" transform="translate(292 2038)"><ellipse class="M" rx="17.5" ry="21.5"/><text class="a w" y="7">→</text></g>
<g id="k39-6" transform="translate(344 2038)"><ellipse class="M" rx="17.5" ry="21.5"/><text class="a w" y="7">→</text></g>
<g id="k39-7" transform="translate(396 2038)"><ellipse class="M" rx="17.5" ry="21.5"/><text class="a w" y="7">→</text></g>
<g id="k39-8" transform="translate(448 2038)"><ellipse class="M" rx="17.5" ry="21.5"/><text class="a w" y="7">→</text></g>
<g id="k39-9" transform="translate(500 2038)"><ellipse class="B" rx="17.5" ry="21.5"/><text class="a w" y="7">→</text></g>
<g id="k39-10" transform="translate(552 2038)"><ellipse class="G" rx="17.5" ry="21.5"/><text class="a k" y="7">→</text></g>
<g id="k40-1" transform="translate(84 2090)"><ellipse class="G" rx="17.5" ry="21.5"/><text class="a k" y="7">←</text></g>
<g id="k40-2" transform="translate(136 2090)"><ellipse class="G" rx="17.5" ry="21.5"/><text class="a k" y="7">←</text></g>
<g id="k40-3" transform="translate(188 2090)"><ellipse class="G" rx="17.5" ry="21.5"/><text class="a k" y="7">←</text></g>
<g id="k40-4" transform="translate(240 2090)"><ellipse class="G" rx="17.5" ry="21.5"/><text class="a k" y="7">←</text></g>
<g id="k40-5" transform="translate(292 2090)"><ellipse class="B" rx="17.5" ry="21.5"/><text class="a w" y="7">←</text></g>
<g id="k40-6" transform="translate(344 2090)"><ellipse class="M" rx="17.5" ry="21.5"/><text class="a w" y="7">←</text></g>
<g id="k40-7" transform="translate(396 2090)"><ellipse class="M" rx="17.5" ry="21.5"/><text class="a w" y="7">←</text></g>
<g id="k40-8" transform="translate(448 2090)"><ellipse class="M" rx="17.5" ry="21.5"/><text class="a w" y="7">←</text></g>
<g id="k40-9" transform="translate(500 2090)"><ellipse class="B" rx="17.5" ry="21.5"/><text class="a w" y="7">←</text></g>
<g id="k40-10" transform="translate(552 2090)"><ellipse class="G" rx="17.5" ry="21.5"/><text class="a k" y="7">←</text></g>
<g id="k41-1" transform="translate(84 2142)"><ellipse class="G" rx="17.5" ry="21.5"/><text class="a k" y="7">→</text></g>
<g id="k41-2" transform="translate(136 2142)"><ellipse class="G" rx="17.5" ry="21.5"/><text class="a k" y="7">→</text></g>
<g id="k41-3" transform="translate(188 2142)"><ellipse class="G" rx="17.5" ry="21.5"/><text class="a k" y="7">→</text></g>
<g id="k41-4" transform="translate(240 2142)"><ellipse class="G" rx="17.5" ry="21.5"/><text class="a k" y="7">→</text></g>
<g id="k41-5" transform="translate(292 2142)"><ellipse class="G" rx="17.5" ry="21.5"/><text class="a k" y="7">→</text></g>
<g id="k41-6" transform="translate(344 2142)"><ellipse class="B" rx="17.5" ry="21.5"/><text class="a w" y="7">→</text></g>
<g id="k41-7" transform="translate(396 2142)"><ellipse class="B" rx="17.5" ry="21.5"/><text class="a w" y="7">→</text></g>
<g id="k41-8" transform="translate(448 2142)"><ellipse class="B" rx="17.5" ry="21.5"/><text class="a w" y="7">→</text></g>
<g id="k41-9" transform="translate(500 2142)"><ellipse class="B" rx="17.5" ry="21.5"/><text class="a w" y="7">→</text></g>
<g id="k41-10" transform="translate(552 2142)"><ellipse class="G" rx="17.5" ry="21.5"/><text class="a k" y="7">→</text></g>
</g>
<text id="watermark" class="wm" x="318" y="1133">BRACELETBOOK.COM</text>
</svg>
